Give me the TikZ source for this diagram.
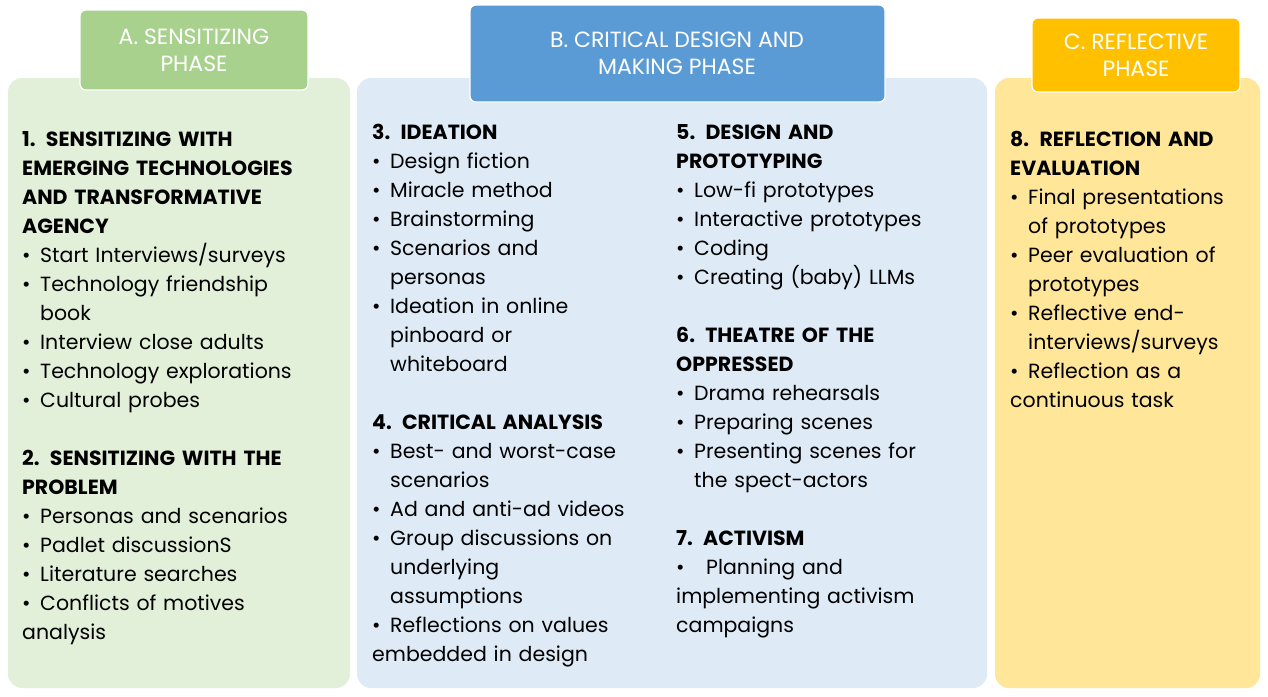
\documentclass[tikz,border=0pt]{standalone}
\usepackage{fontspec}
\setmainfont{Poppins}
\newcommand{\itm}[1]{\par\noindent\hangindent=18pt\hangafter=1\makebox[18pt][l]{•}#1}
\newcommand{\hd}[1]{\par\noindent\textbf{#1}}
\newcommand{\gap}{\par\vspace{29pt}}
\newcommand{\nl}{\newline}
\definecolor{gA}{HTML}{E2EFD9}\definecolor{gAh}{HTML}{A9D18E}
\definecolor{bB}{HTML}{DEEBF7}\definecolor{bBh}{HTML}{5B9BD5}
\definecolor{yC}{HTML}{FFE699}\definecolor{yCh}{HTML}{FFC000}
\tikzset{panel/.style={rounded corners=14pt,draw=none},
 headbox/.style={rounded corners=6pt,draw=white,line width=1.2pt},
 head/.style={text=white,align=center,font=\fontsize{22}{27}\selectfont},
 body/.style={anchor=north west,inner sep=0pt,text width=330pt,align=left,font=\fontsize{20.5}{29}\selectfont}}
\begin{document}
\begin{tikzpicture}[x=1pt,y=-1pt]
\useasboundingbox (0,0) rectangle (1268,696);
\fill[white] (0,0) rectangle (1268,696);
\fill[panel,gA] (8,78) rectangle (350,688);
\fill[panel,bB] (357,78) rectangle (987,688);
\fill[panel,yC] (995,78) rectangle (1260,688);
\path[headbox,fill=gAh] (80,10) rectangle (308,90);
\node[head] (ha) at (194,50) {A. SENSITIZING\\PHASE};
\path[headbox,fill=bBh] (470,5) rectangle (885,102);
\node[head] (hb) at (677,53) {B. CRITICAL DESIGN AND\\MAKING PHASE};
\path[headbox,fill=yCh] (1032,18) rectangle (1240,92);
\node[head] (hc) at (1136,55) {C. REFLECTIVE\\PHASE};
\node[body] (ta) at (22,117) {%
\hd{1. SENSITIZING WITH\nl EMERGING TECHNOLOGIES\nl AND TRANSFORMATIVE\nl AGENCY}
\itm{Start Interviews/surveys}
\itm{Technology friendship\nl book}
\itm{Interview close adults}
\itm{Technology explorations}
\itm{Cultural probes}
\gap
\hd{2. SENSITIZING WITH THE\nl PROBLEM}
\itm{Personas and scenarios}
\itm{Padlet discussionS}
\itm{Literature searches}
\itm{Conflicts of motives\nl analysis}};
\node[body] (tb) at (372,110) {%
\hd{3. IDEATION}
\itm{Design fiction}
\itm{Miracle method}
\itm{Brainstorming}
\itm{Scenarios and\nl personas}
\itm{Ideation in online\nl pinboard or\nl whiteboard}
\gap
\hd{4. CRITICAL ANALYSIS}
\itm{Best- and worst-case\nl scenarios}
\itm{Ad and anti-ad videos}
\itm{Group discussions on\nl underlying\nl assumptions}
\itm{Reflections on values\nl embedded in design}};
\node[body] (tc) at (676,110) {%
\hd{5. DESIGN AND\nl PROTOTYPING}
\itm{Low-fi prototypes}
\itm{Interactive prototypes}
\itm{Coding}
\itm{Creating (baby) LLMs}
\gap
\hd{6. THEATRE OF THE\nl OPPRESSED}
\itm{Drama rehearsals}
\itm{Preparing scenes}
\itm{Presenting scenes for\nl the spect-actors}
\gap
\hd{7. ACTIVISM}
\par\noindent\hangindent=30pt\hangafter=1\makebox[30pt][l]{•}Planning and\nl implementing activism\nl campaigns};
\node[body] (td) at (1010,117) {%
\hd{8. REFLECTION AND\nl EVALUATION}
\itm{Final presentations\nl of prototypes}
\itm{Peer evaluation of\nl prototypes}
\itm{Reflective end-\nl interviews/surveys}
\itm{Reflection as a\nl continuous task}};
\end{tikzpicture}
\end{document}
